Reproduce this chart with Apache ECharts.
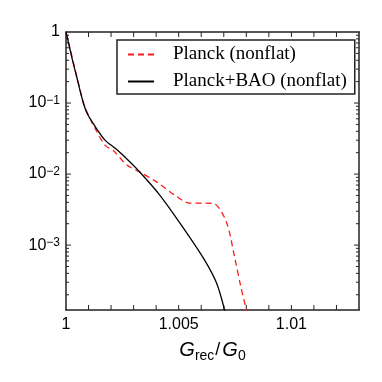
<!DOCTYPE html>
<html>
<head>
<meta charset="utf-8">
<script src="https://cdn.jsdelivr.net/npm/echarts@6/dist/echarts.min.js"></script>
<style>
  html, body { margin: 0; padding: 0; background: #fff; }
  #main { width: 382px; height: 382px; }
</style>
</head>
<body>
<div id="main"></div>
<script>
// values
const planckG = [1.0, 1.000177, 1.000354, 1.000575, 1.000797, 1.00102, 1.00128, 1.00173, 1.00212, 1.0027, 1.00327, 1.00403, 1.00482, 1.00549, 1.00615, 1.00659, 1.00712, 1.00748, 1.00774, 1.008, 1.00805];
const planckP = [1.0, 0.595, 0.343, 0.179, 0.0937, 0.0656, 0.0445, 0.0256, 0.0211, 0.0134, 0.0107, 0.0077, 0.00506, 0.0039, 0.0039, 0.0038, 0.0021, 0.00068, 0.000275, 0.000122, 0.0001];
const baoG = [1.0, 1.000266, 1.000487, 1.000708, 1.000929, 1.00128, 1.00173, 1.00217, 1.00252, 1.00327, 1.00416, 1.00518, 1.00615, 1.00668, 1.00704, 1.00709];
const baoP = [1.0, 0.43, 0.225, 0.118, 0.0723, 0.0474, 0.0301, 0.0232, 0.0185, 0.0107, 0.00506, 0.00179, 0.000615, 0.000292, 0.000122, 0.0001];
const seriesNames = ["Planck (nonflat)", "Planck+BAO (nonflat)"];
const yMin = 1.22e-4;
const xMin = 1, xMax = 1.013;
// x ticks every 0.001
const xTicks = [1.001, 1.002, 1.003, 1.004, 1.005, 1.006, 1.007, 1.008, 1.009, 1.01, 1.011, 1.012];
// log minor ticks 2..9 per decade
const minorTicks = [];
[1e-4, 1e-3, 1e-2, 1e-1].forEach(function (d) {
  for (let k = 2; k <= 9; k++) {
    if (k * d >= yMin && k * d < 1) minorTicks.push(k * d);
  }
});
const majorTicks = [1e-3, 1e-2, 1e-1];

const chart = echarts.init(document.getElementById("main"));

function pairs(xs, ys) {
  return xs.map(function (x, i) { return [x, ys[i]]; });
}

function yLabel(v) {
  const e = Math.log10(v);
  const r = Math.round(e);
  if (Math.abs(e - r) > 1e-6) return "";
  if (r === 0) return "1";
  return "10{sup|\u2212" + (-r) + "}";
}

function xLabel(v) {
  const k = Math.round((v - 1) * 1000);
  if (k === 0) return "1";
  if (k === 5) return "1.005";
  if (k === 10) return "1.01";
  return "";
}

const axisLine = { lineStyle: { color: "#222", width: 1.5 } };
const tickStyle = { stroke: "#222", lineWidth: 1 };
const sans = "Liberation Sans";

chart.setOption({
  animation: false,
  grid: { left: 66, right: 23, top: 32, bottom: 72 },
  legend: {
    orient: "vertical",
    left: 117,
    top: 40,
    borderColor: "#222",
    borderWidth: 1.5,
    padding: [5, 8, 3, 10],
    itemWidth: 26,
    itemHeight: 18,
    itemGap: 8,
    itemStyle: { opacity: 0 },
    textStyle: { fontFamily: "Liberation Serif", fontSize: 19, color: "#000", padding: [0, 0, 0, 14] },
    data: seriesNames
  },
  xAxis: [
    {
      type: "value",
      min: xMin,
      max: xMax,
      interval: 0.001,
      axisLine: axisLine,
      splitLine: { show: false },
      axisTick: { show: false },
      axisLabel: { formatter: xLabel, fontFamily: sans, fontSize: 16, color: "#000", margin: 7 },
      name: "{g|G}{s|rec}{n|/}{g|G}{s|0}",
      nameLocation: "middle",
      nameGap: 27,
      nameTextStyle: {
        rich: {
          g: { fontFamily: sans, fontStyle: "italic", fontSize: 20, lineHeight: 26, color: "#000" },
          s: { fontFamily: sans, fontSize: 14, lineHeight: 16, verticalAlign: "bottom", color: "#000" },
          n: { fontFamily: sans, fontSize: 18, lineHeight: 26, color: "#000", padding: [0, 2, 0, 1] }
        }
      }
    },
    {
      type: "value",
      position: "top",
      min: xMin,
      max: xMax,
      interval: 0.001,
      axisLine: axisLine,
      splitLine: { show: false },
      axisTick: { show: false },
      axisLabel: { show: false }
    }
  ],
  yAxis: [
    {
      type: "log",
      min: yMin,
      max: 1,
      splitNumber: 4,
      axisLine: axisLine,
      splitLine: { show: false },
      axisTick: { show: false },
      axisLabel: {
        formatter: yLabel,
        fontFamily: sans,
        fontSize: 16,
        color: "#000",
        margin: 6,
        rich: {
          sup: { fontFamily: sans, fontSize: 12, lineHeight: 12, verticalAlign: "top", color: "#000" }
        }
      }
    },
    {
      type: "log",
      position: "right",
      min: yMin,
      max: 1,
      axisLine: axisLine,
      splitLine: { show: false },
      axisTick: { show: false },
      axisLabel: { show: false }
    }
  ],
  series: [
    {
      name: seriesNames[0],
      type: "line",
      data: pairs(planckG, planckP),
      symbol: "none",
      smooth: 0.3,
      lineStyle: { color: "#ff1a1a", width: 1.3, type: [6, 4] },
      itemStyle: { color: "#ff1a1a" },
      z: 3
    },
    {
      name: seriesNames[1],
      type: "line",
      data: pairs(baoG, baoP),
      symbol: "none",
      smooth: 0.3,
      lineStyle: { color: "#000", width: 1.3 },
      itemStyle: { color: "#000" },
      z: 4
    },
    {
      // y ticks, left and right, inward
      type: "custom",
      silent: true,
      clip: false,
      data: majorTicks.map(function (v) { return [xMin, v, 5]; }).concat(minorTicks.map(function (v) { return [xMin, v, 3]; })),
      renderItem: function (params, api) {
        const v = api.value(1);
        const len = api.value(2);
        const pl = api.coord([xMin, v]);
        const pr = api.coord([xMax, v]);
        return {
          type: "group",
          children: [
            { type: "line", shape: { x1: pl[0], y1: pl[1], x2: pl[0] + len, y2: pl[1] }, style: tickStyle },
            { type: "line", shape: { x1: pr[0], y1: pr[1], x2: pr[0] - len, y2: pr[1] }, style: tickStyle }
          ]
        };
      },
      z: 2
    },
    {
      // x ticks, bottom and top, inward
      type: "custom",
      silent: true,
      clip: false,
      data: xTicks.map(function (v) { return [v, 1]; }),
      renderItem: function (params, api) {
        const v = api.value(0);
        const pb = api.coord([v, yMin]);
        const pt = api.coord([v, 1]);
        return {
          type: "group",
          children: [
            { type: "line", shape: { x1: pb[0], y1: pb[1], x2: pb[0], y2: pb[1] - 5 }, style: tickStyle },
            { type: "line", shape: { x1: pt[0], y1: pt[1], x2: pt[0], y2: pt[1] + 5 }, style: tickStyle }
          ]
        };
      },
      z: 2
    }
  ]
});
</script>
</body>
</html>
